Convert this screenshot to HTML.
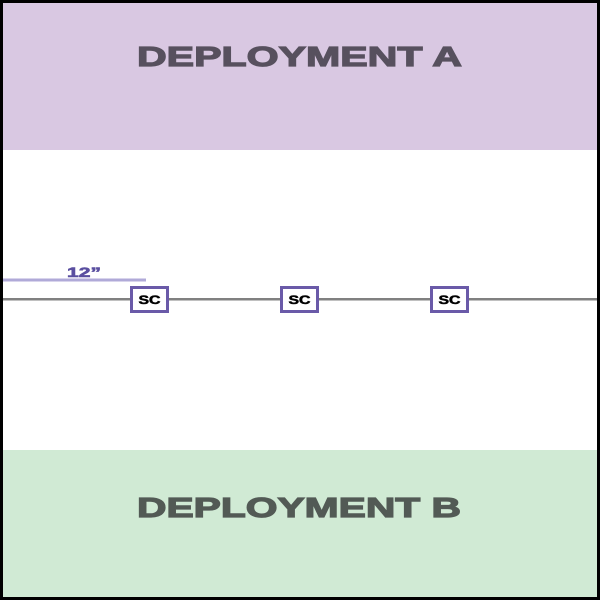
<!DOCTYPE html>
<html><head><meta charset="utf-8"><style>
html,body{margin:0;padding:0;background:#fff}
</style></head><body>
<svg width="600" height="600" viewBox="0 0 600 600" xmlns="http://www.w3.org/2000/svg">
<rect x="0" y="0" width="600" height="600" fill="#fff"/>
<rect x="0" y="0" width="600" height="150" fill="#d9c8e2"/>
<rect x="0" y="450" width="600" height="150" fill="#d0ead4"/>
<text x="137" y="66" font-family="Liberation Sans, sans-serif" font-weight="bold" font-size="28" fill="#57505e" stroke="#57505e" stroke-width="1.2" textLength="325" lengthAdjust="spacingAndGlyphs">DEPLOYMENT A</text>
<text x="137" y="517" font-family="Liberation Sans, sans-serif" font-weight="bold" font-size="28" fill="#525a55" stroke="#525a55" stroke-width="1.2" textLength="324" lengthAdjust="spacingAndGlyphs">DEPLOYMENT B</text>
<rect x="3" y="278.5" width="143" height="3" fill="#b0aad8"/>
<text x="67" y="277" font-family="Liberation Sans, sans-serif" font-weight="bold" font-size="14" fill="#5a4fa0" stroke="#5a4fa0" stroke-width="0.6" textLength="34" lengthAdjust="spacingAndGlyphs">12”</text>
<rect x="3" y="298" width="594" height="2.5" fill="#808080"/>
<g font-family="Liberation Sans, sans-serif" font-weight="bold" font-size="12" fill="#000" stroke="#000" stroke-width="0.5" text-anchor="middle">
<rect x="131.5" y="287.5" width="36" height="24" fill="#fff" stroke="#6a5aa8" stroke-width="3"/>
<text x="149.5" y="304" textLength="22" lengthAdjust="spacingAndGlyphs">SC</text>
<rect x="281.5" y="287.5" width="36" height="24" fill="#fff" stroke="#6a5aa8" stroke-width="3"/>
<text x="299.5" y="304" textLength="22" lengthAdjust="spacingAndGlyphs">SC</text>
<rect x="431.5" y="287.5" width="36" height="24" fill="#fff" stroke="#6a5aa8" stroke-width="3"/>
<text x="449.5" y="304" textLength="22" lengthAdjust="spacingAndGlyphs">SC</text>
</g>
<rect x="1.5" y="1.5" width="597" height="597" fill="none" stroke="#000" stroke-width="3"/>
</svg>
</body></html>
